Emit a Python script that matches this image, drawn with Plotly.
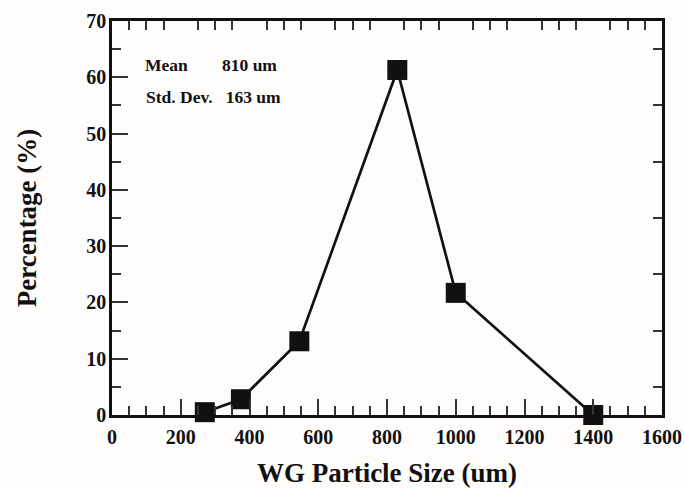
import plotly.graph_objects as go

sizes = [270, 375, 545, 830, 1000, 1400]
percent = [0.5, 2.8, 13.1, 61.3, 21.7, 0.0]
x_major = [0, 200, 400, 600, 800, 1000, 1200, 1400, 1600]
y_major = [0, 10, 20, 30, 40, 50, 60, 70]

FONT = "Liberation Serif"
BG = "#fefdfb"
INK = "#111111"

fig = go.Figure()
fig.add_trace(go.Scatter(
    x=sizes, y=percent, mode="lines+markers",
    line=dict(color=INK, width=2.7),
    marker=dict(symbol="square", size=20, color=INK),
    showlegend=False, cliponaxis=False,
))

x_minor_top = [v for v in range(50, 1600, 50) if v % 200 != 0]
y_minor_right = [v for v in range(5, 70, 5) if v % 10 != 0]

common = dict(ticks="inside", tickwidth=1.5, tickcolor="#333333", showline=True,
              linewidth=2.5, linecolor=INK, showgrid=False, zeroline=False, automargin=False)

fig.update_layout(
    width=684, height=489,
    margin=dict(l=112, r=22, t=21, b=74),
    paper_bgcolor=BG, plot_bgcolor=BG,
    font=dict(family=FONT, color=INK),
    xaxis=dict(
        range=[0, 1600], tickvals=x_major, ticktext=[f"<b>{v}</b>" for v in x_major],
        ticklen=16, ticklabelstandoff=2,
        minor=dict(dtick=50, ticks="inside", ticklen=9, tickwidth=1.5, tickcolor="#333333"),
        tickfont=dict(family=FONT, size=20, color=INK),
        title=dict(text="<b>WG Particle Size (um)</b>", font=dict(family=FONT, size=27), standoff=17),
        **common,
    ),
    yaxis=dict(
        range=[0, 70], tickvals=y_major, ticktext=[f"<b>{v}</b>" for v in y_major],
        ticklen=16, ticklabelstandoff=-1,
        minor=dict(dtick=5, ticks="inside", ticklen=9, tickwidth=1.5, tickcolor="#333333"),
        tickfont=dict(family=FONT, size=20, color=INK),
        title=dict(text="<b>Percentage (%)</b>", font=dict(family=FONT, size=27), standoff=42),
        **common,
    ),
    xaxis2=dict(
        range=[0, 1600], overlaying="x", side="top", tickvals=x_minor_top,
        ticklen=9, showticklabels=False, **common,
    ),
    yaxis2=dict(
        range=[0, 70], overlaying="y", side="right", tickvals=y_minor_right,
        ticklen=9, showticklabels=False, **common,
    ),
)

fig.add_trace(go.Scatter(x=[None], y=[None], xaxis="x2", yaxis="y2", showlegend=False, hoverinfo="skip"))

fig.add_annotation(x=90, y=62.2, text="<b>Mean</b>", xanchor="left", yanchor="middle",
                   showarrow=False, font=dict(family=FONT, size=17.5, color=INK))
fig.add_annotation(x=314, y=62.2, text="<b>810 um</b>", xanchor="left", yanchor="middle",
                   showarrow=False, font=dict(family=FONT, size=17.5, color=INK))
fig.add_annotation(x=93, y=56.5, text="<b>Std. Dev.   163 um</b>", xanchor="left", yanchor="middle",
                   showarrow=False, font=dict(family=FONT, size=17.5, color=INK))

fig.write_html("out.html", config={"displayModeBar": False},
               post_script="document.body.style.margin='0';document.body.style.overflow='hidden';")
